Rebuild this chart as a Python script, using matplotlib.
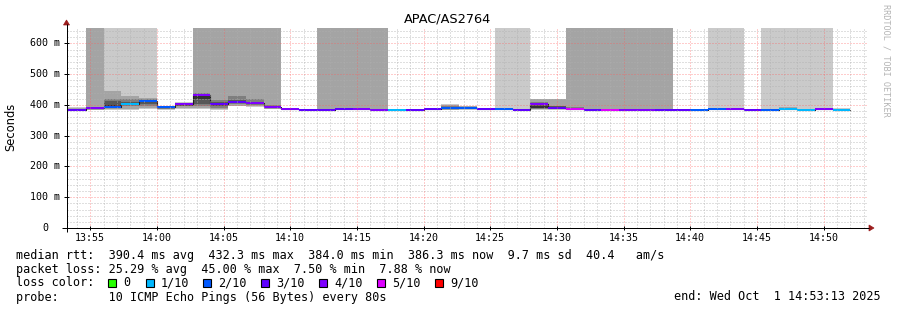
"""
SmokePing style latency chart for APAC/AS2764 (last hour, 80 s steps).
Writes out.png at 897x310.
"""
import matplotlib
matplotlib.use("Agg")
import numpy as np
import matplotlib.pyplot as plt
from matplotlib.lines import Line2D
from matplotlib.patches import Rectangle, Polygon

W, H = 897, 310
DPI = 100
INF = np.inf

# ---------- Data ----------
title = "APAC/AS2764"
t_start = 53 * 60 + 13          # 13:53:13, seconds after 13:00
t_end = t_start + 3600          # 14:53:13
bin_first = 53 * 60 + 20        # first 80 s bin starts 13:53:20
step = 80

median = [385, 389, 394, 403, 413, 392, 403, 433, 402, 409, 407, 392, 387, 384, 385,
          388, 388, 384, 384, 384, 387, 389, 389, 386, 386, 384, 402, 390, 387, 384,
          384, 384, 384, 385, 385, 384, 386, 386, 384, 384, 388, 385, 386, 385]
loss = [3, 4, 2, 1, 2, 2, 4, 4, 3, 3, 4, 4, 4, 3, 3, 3, 4, 4, 1, 3, 3, 2,
        2, 3, 2, 3, 4, 3, 5, 3, 5, 4, 4, 3, 3, 2, 2, 4, 3, 2, 1, 1, 4, 1]

# sorted ping rtts per bin (ms), INF = above the graph top
pings = [
    [380, 382, 383, 384, 385, 385, 386, 387, 389, 392],
    [384, 385, 386, 387, 388, 390, 391, 392, INF, INF],
    [384, 387, 390, 392, 394, 400, 414, 418, 446, INF],
    [383, 388, 395, 400, 402, 405, 410, 419, 430, INF],
    [386, 390, 396, 402, 410, 414, 417, 420, 422, INF],
    [384, 386, 388, 389, 391, 393, 394, 396, 397, 398],
    [386, 390, 395, 398, 402, 404, 405, 406, 407, 408],
    [388, 390, 395, 403, 420, 432, 436, 440, INF, INF],
    [383, 386, 390, 396, 401, 404, 410, 415, INF, INF],
    [396, 398, 402, 405, 408, 411, 416, 429, INF, INF],
    [394, 396, 399, 402, 406, 408, 411, 418, INF, INF],
    [386, 388, 389, 390, 391, 393, 395, 399, INF, INF],
    [384, 385, 385, 386, 387, 388, 388, 389, 390, 391],
    [382, 383, 383, 384, 384, 385, 385, 386, 386, 387],
    [382, 383, 384, 385, 385, 386, 387, 388, INF, INF],
    [384, 385, 386, 387, 388, 389, 390, 391, INF, INF],
    [384, 385, 386, 387, 388, 389, 390, 391, INF, INF],
    [381, 382, 383, 384, 384, 385, 386, 387, INF, INF],
    [381, 382, 383, 383, 384, 384, 385, 385, 386, 387],
    [381, 382, 383, 384, 384, 385, 385, 386, 386, 387],
    [384, 385, 386, 386, 387, 388, 388, 389, 389, 390],
    [383, 385, 386, 388, 389, 390, 392, 396, 399, 402],
    [384, 386, 387, 388, 389, 390, 391, 393, 395, 397],
    [383, 384, 385, 385, 386, 386, 387, 387, 388, 389],
    [383, 384, 385, 385, 386, 387, 387, 388, 389, INF],
    [381, 382, 383, 383, 384, 384, 385, 386, 387, INF],
    [383, 386, 388, 390, 391, 398, 402, 410, 419, 420],
    [384, 386, 388, 389, 390, 392, 395, 398, 418, 420],
    [383, 384, 385, 386, 387, 388, 390, 393, INF, INF],
    [381, 382, 383, 384, 384, 385, 385, 386, INF, INF],
    [381, 382, 383, 384, 384, 385, 385, 386, INF, INF],
    [381, 382, 383, 384, 384, 385, 385, 386, INF, INF],
    [381, 382, 383, 384, 384, 385, 385, 386, INF, INF],
    [382, 383, 384, 385, 385, 386, 386, 388, INF, INF],
    [382, 383, 384, 385, 385, 386, 386, 387, 387, 388],
    [381, 382, 383, 384, 384, 385, 385, 386, 386, 387],
    [383, 384, 385, 385, 386, 387, 387, 388, 389, INF],
    [383, 384, 385, 385, 386, 387, 387, 388, 389, INF],
    [381, 382, 383, 384, 384, 385, 385, 386, 386, 387],
    [381, 382, 383, 384, 384, 385, 385, 386, 387, INF],
    [384, 385, 386, 387, 388, 389, 390, 391, 393, INF],
    [382, 383, 384, 384, 385, 386, 386, 387, 388, INF],
    [383, 384, 385, 385, 386, 387, 387, 388, 389, INF],
    [382, 383, 384, 384, 385, 386, 386, 387, 388, 389],
]

y_ticks = [0, 100, 200, 300, 400, 500, 600]
y_labels = ["0", "100 m", "200 m", "300 m", "400 m", "500 m", "600 m"]
x_labels = ["13:55", "14:00", "14:05", "14:10", "14:15", "14:20", "14:25",
            "14:30", "14:35", "14:40", "14:45", "14:50"]

loss_levels = [0, 1, 2, 3, 4, 5, 9]
loss_names = ["0", "1/10", "2/10", "3/10", "4/10", "5/10", "9/10"]
loss_hex = ["#26ff00", "#00b8ff", "#0059ff", "#5e00ff", "#7e00ff", "#dd00ff", "#ff0000"]

rtt_line = "median rtt:  390.4 ms avg  432.3 ms max  384.0 ms min  386.3 ms now  9.7 ms sd  40.4   am/s"
loss_line = "packet loss: 25.29 % avg  45.00 % max  7.50 % min  7.88 % now"
probe_line = "probe:       10 ICMP Echo Pings (56 Bytes) every 80s"
end_line = "end: Wed Oct  1 14:53:13 2025"

# ---------- Style ----------
Y_MAX = 650.0
SMOKE = ["#cacaca", "#a4a4a4", "#7e7e7e", "#585858", "#323232"]
MONO = "DejaVu Sans Mono"
SANS = "DejaVu Sans"
ARROW = "#9b1c1c"
GRID = dict(color="#b0b0b0", alpha=0.8, linewidth=0.72, linestyle=(0, (1, 2)), zorder=3)
MGRID = dict(color="#ff5c5c", alpha=0.62, linewidth=0.72, linestyle=(0, (1, 2)), zorder=3.1)

# plot area in figure pixels
PX_L, PX_R, PX_T, PX_B = 66.5, 866.5, 28.0, 228.0


def fx(px):
    return px / W


def fy(py):
    return 1.0 - py / H


fig = plt.figure(figsize=(W / DPI, H / DPI), dpi=DPI)
fig.patch.set_facecolor("white")
ax = fig.add_axes([fx(PX_L), fy(PX_B), (PX_R - PX_L) / W, (PX_B - PX_T) / H])
ax.set_facecolor("white")
ax.set_xlim(t_start, t_end)
ax.set_ylim(0, Y_MAX)
for s in ax.spines.values():
    s.set_visible(False)

n = len(median)
starts = np.array([bin_first + step * i for i in range(n)], dtype=float)
p = np.minimum(np.array(pings, dtype=float), Y_MAX + 50)
med = np.array(median, dtype=float)

# smoke layers: outer pair first, inner pairs on top
for k, shade in enumerate(SMOKE):
    lo, hi = p[:, k], p[:, 9 - k]
    ax.bar(starts, hi - lo, bottom=lo, width=step, align="edge", color=shade,
           linewidth=0, antialiased=False, zorder=1)

# median step line
edges = np.append(starts, starts[-1] + step)
ax.step(edges, np.append(med, med[-1]), where="post", color="#202020",
        linewidth=0.8, zorder=1.5)

# loss-coloured median band (2 px high)
swidth = Y_MAX / (PX_B - PX_T)
band_colors = [loss_hex[loss_levels.index(l)] for l in loss]
ax.bar(starts, 2 * swidth, bottom=med - swidth, width=step, align="edge",
       color=band_colors, linewidth=0, antialiased=False, zorder=1.8)

# grid (drawn over the data, rrdtool style)
x_major = [(int(l[:2]) - 13) * 3600 + int(l[3:]) * 60 for l in x_labels]
x_minor = [m * 60 for m in range(54, 114)]
y_minor = list(range(20, 650, 20))
for xv in x_minor:
    if xv not in x_major:
        ax.axvline(xv, **GRID)
for yv in y_minor:
    if yv not in y_ticks:
        ax.axhline(yv, **GRID)
for xv in x_major:
    ax.axvline(xv, **MGRID)
for yv in y_ticks[1:]:
    ax.axhline(yv, **MGRID)

ax.set_xticks([])
ax.set_yticks([])

# tick labels
for xv, lab in zip(x_major, x_labels):
    ax.text(xv, (PX_B - 237.8) / (PX_B - PX_T), lab, transform=ax.get_xaxis_transform(),
            ha="center", va="center", fontsize=7.2, family=MONO, color="#000000")
for yv, lab in zip(y_ticks, y_labels):
    ax.text((45.3 - PX_L) / (PX_R - PX_L), yv, lab, transform=ax.get_yaxis_transform(),
            ha="center", va="center", fontsize=7.2, family=MONO, color="#000000")


# axes lines, ticks and arrows (figure pixel space)
def fline(x0, y0, x1, y1, color="#000000", lw=0.72):
    fig.add_artist(Line2D([fx(x0), fx(x1)], [fy(y0), fy(y1)], color=color,
                          linewidth=lw, solid_capstyle="butt"))


fline(62, PX_B, 869, PX_B)
fline(PX_L, 232, PX_L, 24)
for xv in x_major:
    xp = PX_L + (xv - t_start) / (t_end - t_start) * (PX_R - PX_L)
    fline(xp, PX_B - 2, xp, PX_B + 2)
for yv in y_ticks:
    yp = PX_B - yv / Y_MAX * (PX_B - PX_T)
    fline(PX_L - 3, yp, PX_L + 2, yp)
fig.add_artist(Polygon([(fx(869), fy(225)), (fx(874), fy(228)), (fx(869), fy(231))],
                       closed=True, facecolor=ARROW, edgecolor=ARROW, linewidth=0.5))
fig.add_artist(Polygon([(fx(63.5), fy(25)), (fx(66.5), fy(20)), (fx(69.5), fy(25))],
                       closed=True, facecolor=ARROW, edgecolor=ARROW, linewidth=0.5))

# title, axis label, watermark
fig.text(fx(448), fy(19.5), title, ha="center", va="center", fontsize=9.3,
         family=SANS, color="#000000")
fig.text(fx(11), fy(127), "Seconds", rotation=90, ha="center", va="center",
         fontsize=8.3, family=SANS, color="#000000")
fig.text(fx(886), fy(60), "RRDTOOL / TOBI OETIKER", rotation=270, ha="center",
         va="center", fontsize=6.1, family=MONO, color="#b4b4b4")

# legend rows
LEG_FS = 8.5
fig.text(fx(16), fy(258.5), rtt_line, ha="left", va="baseline", fontsize=LEG_FS, family=MONO)
fig.text(fx(16), fy(272.5), loss_line, ha="left", va="baseline", fontsize=LEG_FS, family=MONO)
fig.text(fx(16), fy(286.5), "loss color:", ha="left", va="baseline", fontsize=LEG_FS, family=MONO)
fig.text(fx(16), fy(300.5), probe_line, ha="left", va="baseline", fontsize=LEG_FS, family=MONO)
fig.text(fx(881), fy(300.5), end_line, ha="right", va="baseline", fontsize=LEG_FS, family=MONO)

sq_x = [108.3, 145.8, 203.4, 261.3, 319.1, 377.0, 435.0]
for xs, name, col in zip(sq_x, loss_names, loss_hex):
    fig.add_artist(Rectangle((fx(xs), fy(286.7)), 7.7 / W, 7.7 / H, facecolor=col,
                             edgecolor="#000000", linewidth=0.8))
    fig.text(fx(xs + 15), fy(286.5), name, ha="left", va="baseline",
             fontsize=LEG_FS, family=MONO)

fig.savefig("out.png", dpi=DPI, facecolor="white")
